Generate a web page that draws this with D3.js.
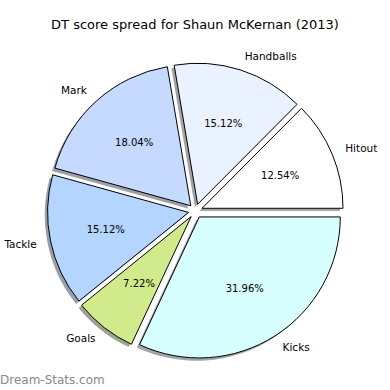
<!DOCTYPE html>
<html><head><meta charset="utf-8">
<script src="https://cdn.jsdelivr.net/npm/d3@7"></script>
<style>body{margin:0;background:#fff}</style>
</head><body>
<svg id="c" width="390" height="390"></svg>
<script>
const categories = ["Hitout","Handballs","Mark","Tackle","Goals","Kicks"];
const values = [12.54, 15.12, 18.04, 15.12, 7.22, 31.96];
const pctLabels = ["12.54%","15.12%","18.04%","15.12%","7.22%","31.96%"];
const colors = ["#ffffff","#eaf1ff","#c6d9ff","#b3d5ff","#d0ea8c","#d8ffff"];
const title = "DT score spread for Shaun McKernan (2013)";

const W = 390, H = 390;
const cx = 195.5, cy = 211, R = 141;
const explode = 0.05 * R;
const shadowOff = 0.02 * R;

const svg = d3.select("#c");
svg.append("rect").attr("width",W).attr("height",H).attr("fill","#fff");

svg.append("text").attr("x",195).attr("y",29).attr("text-anchor","middle")
  .attr("font-family","DejaVu Sans").attr("font-size",13).attr("fill","#000").text(title);

const pie = d3.pie().sort(null).value(d=>d).startAngle(Math.PI/2).endAngle(Math.PI/2 - 2*Math.PI);
const arcs = pie(values);
const arc = d3.arc().innerRadius(0).outerRadius(R);

const g = svg.append("g").attr("transform",`translate(${cx},${cy})`);

arcs.forEach((a,i)=>{
  const mid = (a.startAngle + a.endAngle)/2;
  const ox = explode*Math.sin(mid), oy = -explode*Math.cos(mid);
  const sg = g.append("g").attr("transform",`translate(${ox},${oy})`);
  const c = d3.rgb(colors[i]);
  sg.append("path").attr("d",arc(a))
    .attr("transform",`translate(${-shadowOff},${shadowOff})`)
    .attr("fill", d3.rgb(c.r*0.3,c.g*0.3,c.b*0.3).toString())
    .attr("fill-opacity",0.5).attr("stroke","none");
  sg.append("path").attr("d",arc(a)).attr("fill",colors[i])
    .attr("stroke","#000").attr("stroke-width",1).attr("stroke-linejoin","round");
  const lx = 1.1*R*Math.sin(mid), ly = -1.1*R*Math.cos(mid);
  sg.append("text").attr("x",lx).attr("y",ly).attr("dy","0.35em")
    .attr("text-anchor", lx>0 ? "start" : "end")
    .attr("font-family","DejaVu Sans").attr("font-size",10.5).attr("fill","#000")
    .text(categories[i]);
  const px = 0.6*R*Math.sin(mid), py = -0.6*R*Math.cos(mid);
  sg.append("text").attr("x",px).attr("y",py).attr("dy","0.35em")
    .attr("text-anchor","middle")
    .attr("font-family","DejaVu Sans").attr("font-size",10).attr("fill","#000")
    .text(pctLabels[i]);
});

svg.append("text").attr("x",0).attr("y",384)
  .attr("font-family","DejaVu Sans").attr("font-size",12)
  .attr("fill","#8a8a8a").text("Dream-Stats.com");
</script>
</body></html>
